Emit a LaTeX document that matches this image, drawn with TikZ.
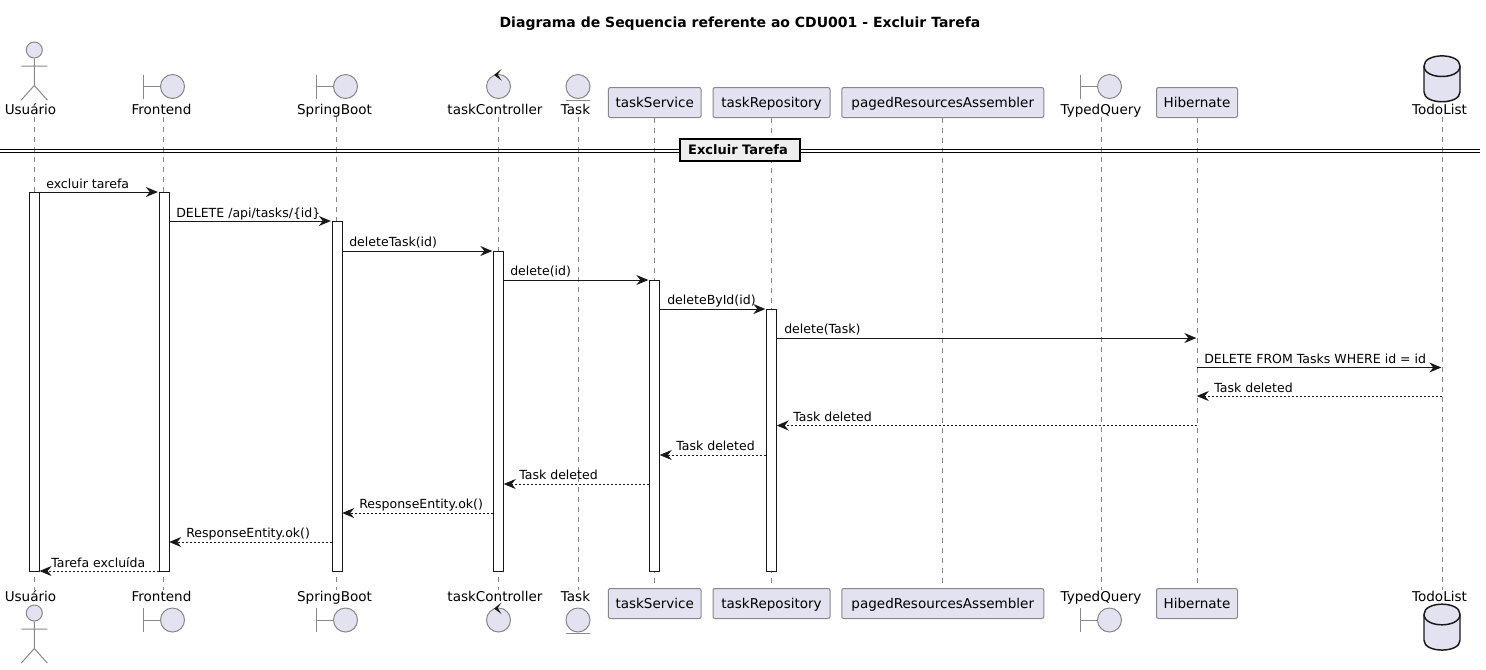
\documentclass[tikz,border=0pt]{standalone}
\usepackage{fontspec}
\setmainfont{DejaVu Sans}
\usetikzlibrary{arrows.meta,calc}
\definecolor{partfill}{HTML}{E2E2F0}
\definecolor{partline}{HTML}{888888}
\definecolor{ink}{HTML}{181818}
\definecolor{lifecol}{HTML}{888888}
\definecolor{dividerfill}{HTML}{EEEEEE}
\tikzset{
  names/.style={inner sep=0pt,text=black,font=\fontsize{10.15pt}{12pt}\selectfont},
  boxname/.style={names,draw=partline,fill=partfill,line width=.75pt,rounded corners=1.5pt,minimum height=22.5pt,text height=7.6pt,text depth=0pt},
  lifeline/.style={draw=lifecol,line width=.75pt,dash pattern=on 3.75pt off 3.75pt},
  activation/.style={draw=ink,fill=white,line width=.75pt,inner sep=0pt,minimum width=7.5pt},
  msgcall/.style={draw=ink,line width=.75pt,-{Stealth[length=9pt,width=7.5pt,inset=3pt]},shorten >=.5pt},
  msgret/.style={draw=ink,line width=.6pt,dash pattern=on 1.5pt off 1.5pt,-{Stealth[length=9pt,width=7.5pt,inset=3pt,fill=ink]},shorten >=-.2pt},
  msglabel/.style={inner sep=0pt,anchor=base west,text=black,font=\fontsize{9.4pt}{12pt}\selectfont},
  shapeline/.style={draw=partline,line width=.75pt},
  shapefill/.style={draw=partline,fill=partfill,line width=.75pt},
  actorfig/.pic={
    \draw[shapefill] (0,-8.5) circle[radius=6pt];
    \draw[shapeline] (0,0) -- (0,27) (-13,7.5) -- (13,7.5) (-13,41.5) -- (0,27) -- (13,41.5);
  },
  boundaryfig/.pic={
    \draw[shapeline] (-29,-12) -- (-29,12) (-29,0) -- (-12,0);
    \draw[shapefill] (0,0) circle[radius=9pt];
  },
  controlfig/.pic={
    \draw[shapefill] (0,0) circle[radius=9pt];
    \fill[ink] (-4.5,-11.5) -- (3,-17.5) -- (-.8,-12) -- (3,-6) -- cycle;
  },
  entityfig/.pic={
    \draw[shapefill] (0,0) circle[radius=9pt];
    \draw[shapeline] (-12,13.5) -- (12,13.5);
  },
  dbfig/.pic={
    \draw[draw=ink,fill=partfill,line width=1.1pt] (-18,10) -- (-18,36) .. controls (-18,49) and (18,49) .. (18,36) -- (18,10) .. controls (18,-3.5) and (-18,-3.5) .. (-18,10) -- cycle;
    \draw[draw=ink,line width=1.1pt] (-18,10) .. controls (-18,24) and (18,24) .. (18,10);
  },
}
\begin{document}
\begin{tikzpicture}[x=.75pt,y=-.75pt]
\useasboundingbox (0,0) rectangle (1486,669);

% title
\node[inner sep=0pt,text=black,font=\fontsize{10.5pt}{12pt}\selectfont\bfseries] (title) at (740,23.5) {Diagrama de Sequencia referente ao CDU001 - Excluir Tarefa};

% lifeline ends
\coordinate (uT) at (34.3,117); \coordinate (uB) at (34.3,590);
\coordinate (fT) at (163.5,117); \coordinate (fB) at (163.5,590);
\coordinate (sT) at (336.5,117); \coordinate (sB) at (336.5,590);
\coordinate (cT) at (498.5,117); \coordinate (cB) at (498.5,590);
\coordinate (eT) at (578,117); \coordinate (eB) at (578,590);
\coordinate (qT) at (1101.5,117); \coordinate (qB) at (1101.5,590);
\coordinate (dT) at (1442,117); \coordinate (dB) at (1442,590);

% boxed participants
\node[boxname,minimum width=69.5pt] (svcT) at (654.75,102.5) {taskService};
\node[boxname,minimum width=87.75pt] (repT) at (771.5,102.5) {taskRepository};
\node[boxname,minimum width=151.5pt] (pagT) at (942.75,102.5) {pagedResourcesAssembler};
\node[boxname,minimum width=60.75pt] (hibT) at (1197,102.5) {Hibernate};
\node[boxname,minimum width=69.5pt] (svcB) at (654.75,603.5) {taskService};
\node[boxname,minimum width=87.75pt] (repB) at (771.5,603.5) {taskRepository};
\node[boxname,minimum width=151.5pt] (pagB) at (942.75,603.5) {pagedResourcesAssembler};
\node[boxname,minimum width=60.75pt] (hibB) at (1197,603.5) {Hibernate};

% lifelines
\foreach \a/\b in {uT/uB,fT/fB,sT/sB,cT/cB,eT/eB,qT/qB,dT/dB}
  \draw[lifeline] (\a) -- (\b);
\draw[lifeline] (svcT) -- (svcB);
\draw[lifeline] (repT) -- (repB);
\draw[lifeline] (pagT) -- (pagB);
\draw[lifeline] (hibT) -- (hibB);

% figures, top
\pic at (34.3,58.5) {actorfig};
\pic at (172.5,86.5) {boundaryfig};
\pic at (345.5,86.5) {boundaryfig};
\pic at (498.5,86.5) {controlfig};
\pic at (578,86.5) {entityfig};
\pic at (1109.5,86.5) {boundaryfig};
\pic at (1442,56) {dbfig};
% figures, bottom
\pic at (34.3,621.5) {actorfig};
\pic at (172.5,620) {boundaryfig};
\pic at (345.5,620) {boundaryfig};
\pic at (498.5,620) {controlfig};
\pic at (578,620) {entityfig};
\pic at (1109.5,620) {boundaryfig};
\pic at (1442,604.3) {dbfig};

% participant names
\foreach \n/\x/\t in {a/30.5/Usuário,b/161.5/Frontend,c/334.5/SpringBoot,d/495/taskController,e/575.5/Task,f/1101/TypedQuery,g/1439.5/TodoList}{
  \node[names,anchor=base] (top\n) at (\x,114.5) {\t};
  \node[names,anchor=base] (bot\n) at (\x,601.7) {\t};
}

% divider
\draw[black,line width=.75pt] (0,149.5) -- (1480,149.5) (0,152.5) -- (1480,152.5);
\node[draw=black,fill=dividerfill,line width=1.5pt,inner sep=0pt,minimum width=89.5pt,minimum height=16.6pt,font=\fontsize{9.75pt}{12pt}\selectfont\bfseries,text=black] (divider) at (740,150) {\hspace{-3pt}Excluir Tarefa};

% activations
\node[activation,minimum height=284.25pt] (actU) at (34.3,381.5) {};
\node[activation,minimum height=284.25pt] (actF) at (164,381.5) {};
\node[activation,minimum height=262.5pt] (actS) at (337,396) {};
\node[activation,minimum height=240pt] (actC) at (498.5,411) {};
\node[activation,minimum height=218.25pt] (actV) at (654.5,425.5) {};
\node[activation,minimum height=196.5pt] (actR) at (771.5,440) {};

% message heights
\foreach \i/\y in {1/192,2/221,3/251,4/280,5/309,6/338,7/367.5,8/396,9/425.5,10/455,11/484,12/513,13/542,14/571}
  \coordinate (m\i) at (0,\y);

% messages
\draw[msgcall] (actU.east |- m1) -- (actF.west |- m1);
\draw[msgcall] (actF.east |- m2) -- (actS.west |- m2);
\draw[msgcall] (actS.east |- m3) -- (actC.west |- m3);
\draw[msgcall] (actC.east |- m4) -- (actV.west |- m4);
\draw[msgcall] (actV.east |- m5) -- (actR.west |- m5);
\draw[msgcall] (actR.east |- m6) -- (hibT.south |- m6);
\draw[msgcall] (hibT.south |- m7) -- (dT |- m7);
\draw[msgret] (dT |- m8) -- (hibT.south |- m8);
\draw[msgret] (hibT.south |- m9) -- (actR.east |- m9);
\draw[msgret] (actR.west |- m10) -- (actV.east |- m10);
\draw[msgret] (actV.west |- m11) -- (actC.east |- m11);
\draw[msgret] (actC.west |- m12) -- (actS.east |- m12);
\draw[msgret] (actS.west |- m13) -- (actF.east |- m13);
\draw[msgret] (actF.west |- m14) -- (actU.east |- m14);

% message labels
\node[msglabel] (l1) at (46,188) {excluir tarefa};
\node[msglabel] (l2) at (176,217) {DELETE /api/tasks/\{id\}};
\node[msglabel] (l3) at (349,246.5) {deleteTask(id)};
\node[msglabel] (l4) at (510,275.5) {delete(id)};
\node[msglabel] (l5) at (667,304.5) {deleteById(id)};
\node[msglabel] (l6) at (784,333.5) {delete(Task)};
\node[msglabel] (l7) at (1204,363) {DELETE FROM Tasks WHERE id = id};
\node[msglabel] (l8) at (1214,392) {Task deleted};
\node[msglabel] (l9) at (793,421) {Task deleted};
\node[msglabel] (l10) at (676,450) {Task deleted};
\node[msglabel] (l11) at (519,479.5) {Task deleted};
\node[msglabel] (l12) at (359,508.5) {ResponseEntity.ok()};
\node[msglabel] (l13) at (186,537.5) {ResponseEntity.ok()};
\node[msglabel] (l14) at (51,567) {Tarefa excluída};
\end{tikzpicture}
\end{document}
